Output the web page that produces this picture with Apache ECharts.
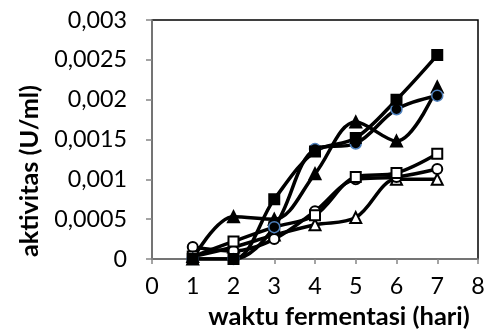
<!DOCTYPE html>
<html><head><meta charset="utf-8">
<script src="https://cdn.jsdelivr.net/npm/echarts@6/dist/echarts.min.js"></script>
<style>html,body{margin:0;padding:0;background:#fff}#c{width:488px;height:336px}</style>
</head><body><div id="c"></div>
<script>
var days = [1, 2, 3, 4, 5, 6, 7];
var sqFilled = [0, 0, 0.00075, 0.00135, 0.00152, 0.002, 0.00256];
var circFilled = [0, 0, 0.0004, 0.00138, 0.00145, 0.00188, 0.00205];
var triFilled = [0, 0.00053, 0.0005, 0.00107, 0.00172, 0.00148, 0.00216];
var sqOpen = [0.00003, 0.00022, 0.0004, 0.00055, 0.00103, 0.00108, 0.00132];
var circOpen = [0.00015, 0.0001, 0.00025, 0.0006, 0.001, 0.00103, 0.00113];
var triOpen = [0.00003, 0.00015, 0.0003, 0.00043, 0.00052, 0.001, 0.001];
var xTicks = [0, 8, 1];
var yTicks = [0, 0.003, 0.0005];
var xTitle = 'waktu fermentasi (hari)';
var yTitle = 'aktivitas (U/ml)';

var fam = 'Lato, "Open Sans", sans-serif';
var cv = document.createElement('canvas').getContext('2d');
function fit(text, weight, target){
  cv.font = weight + ' 100px ' + fam;
  return Math.round(100 * target / cv.measureText(text).width * 10) / 10;
}
var tickSize = fit('0,0025', 'normal', 73);
var xTitleSize = fit(xTitle, 'bold', 262);
var yTitleSize = fit(yTitle, 'bold', 172);

function pairs(v){ return days.map(function(d,i){ return [d, v[i]]; }); }
function mk(name, vals, symbol, size, fill, border){
  return {
    name: name, type: 'line', data: pairs(vals), smooth: 0.35,
    symbol: symbol, symbolSize: size,
    lineStyle: {color: '#000', width: 3.5},
    itemStyle: {color: fill, borderColor: border, borderWidth: border === '#4F81BD' ? 1.5 : 2},
    z: 2
  };
}
var chart = echarts.init(document.getElementById('c'), null, {renderer: 'canvas'});
chart.setOption({
  animation: false,
  grid: {left: 152, right: 10, top: 20, bottom: 77, show: true, borderColor: '#000', borderWidth: 1.5, backgroundColor: 'transparent'},
  xAxis: {
    type: 'value', min: xTicks[0], max: xTicks[1], interval: xTicks[2],
    axisLine: {show: true, lineStyle: {color: '#868686', width: 1.5}},
    axisTick: {show: true, length: 5, lineStyle: {color: '#868686', width: 1.5}},
    splitLine: {show: false},
    axisLabel: {color: '#000', fontSize: tickSize, fontFamily: fam, margin: 16}
  },
  yAxis: {
    type: 'value', min: yTicks[0], max: yTicks[1], interval: yTicks[2],
    axisLine: {show: true, lineStyle: {color: '#868686', width: 1.5}},
    axisTick: {show: true, length: 6, lineStyle: {color: '#868686', width: 1.5}},
    splitLine: {show: false},
    axisLabel: {color: '#000', fontSize: tickSize, fontFamily: fam, margin: 25,
      formatter: function(v){ return String(+v.toFixed(4)).replace('.', ','); }}
  },
  graphic: [
    {type: 'text', x: 339, y: 317, style: {text: xTitle, font: 'bold ' + xTitleSize + 'px ' + fam, fill: '#000', align: 'center', verticalAlign: 'middle'}},
    {type: 'text', x: 30, y: 171, rotation: Math.PI/2, style: {text: yTitle, font: 'bold ' + yTitleSize + 'px ' + fam, fill: '#000', align: 'center', verticalAlign: 'middle'}}
  ],
  series: [
    mk('open triangle', triOpen, 'emptyTriangle', 11, '#000', '#000'),
    mk('open circle', circOpen, 'emptyCircle', 10, '#000', '#000'),
    mk('open square', sqOpen, 'emptyRect', 10, '#000', '#000'),
    mk('filled triangle', triFilled, 'triangle', 11, '#000', '#000'),
    mk('filled circle', circFilled, 'circle', 11, '#000', '#4F81BD'),
    mk('filled square', sqFilled, 'rect', 10, '#000', '#000')
  ]
});
</script></body></html>
